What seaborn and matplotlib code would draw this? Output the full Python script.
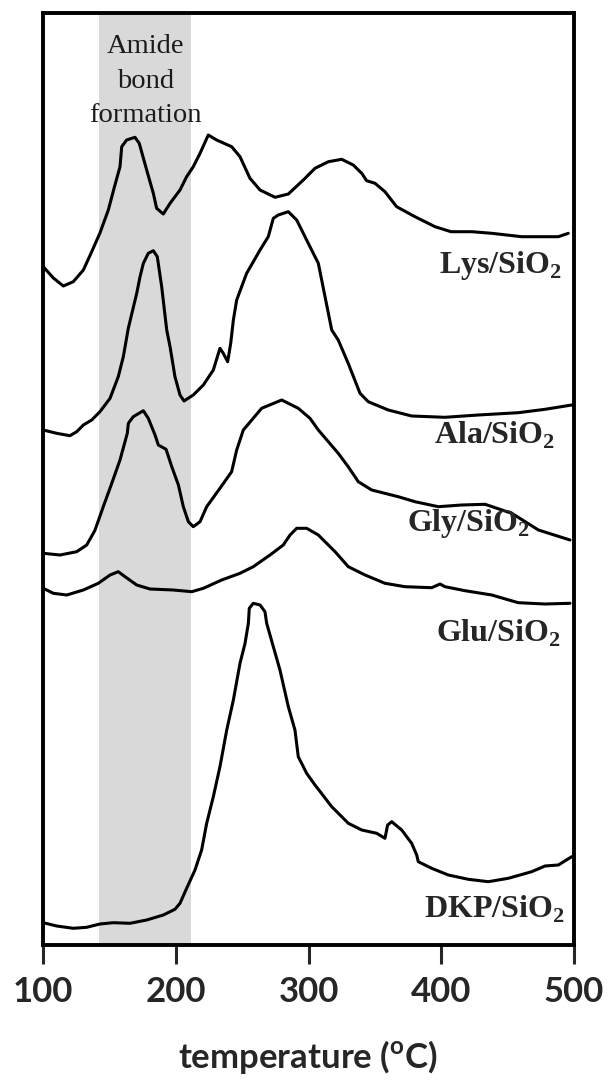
import numpy as np
import pandas as pd
import matplotlib
matplotlib.use("Agg")
import matplotlib.pyplot as plt
import seaborn as sns

# ---- data (temperature in degC, intensity in arbitrary stacked units) ----
lys_t = [100.2, 107.8, 115.3, 122.8, 130.4, 136.7, 142.9, 149.2, 154.2, 158.0, 159.3, 163.0, 169.3,
         172.5, 178.1, 183.1, 185.6, 190.6, 195.7, 203.2, 208.2, 213.2, 218.3, 224.5, 230.8, 242.1,
         248.4, 255.9, 263.5, 274.8, 284.8, 296.1, 304.9, 315.0, 325.0, 333.7, 340.1, 343.8, 350.1,
         357.6, 366.4, 380.2, 395.3, 407.3, 423.0, 438.0, 460.6, 488.2, 495.7]
lys_y = [678.3, 667, 659, 663.3, 675, 693.3, 712, 735, 760, 778.3, 798.3, 805, 807.7,
         801.7, 775, 751.7, 736.7, 731, 741.7, 755, 768.3, 778.3, 791.7, 810, 805, 798.3,
         788.3, 766.7, 755, 747.7, 751, 765, 776.7, 783.3, 785.7, 780, 771.7, 764.3, 761.7,
         753.3, 738.3, 728.3, 718.3, 713.3, 713.3, 711.7, 708.3, 708.3, 711.7]

ala_t = [100.2, 110.3, 120.3, 125.4, 130.4, 136.7, 142.9, 150.5, 156.7, 160.5, 164.3, 170.6, 173.1,
         175.6, 179.3, 183.1, 186.1, 189.4, 193.2, 195.7, 199.4, 203.2, 206.2, 213.2, 220.8, 228.3,
         233.3, 235.8, 239.1, 241.4, 243.4, 245.9, 253.4, 263.5, 269.7, 273.5, 277.2, 284.8, 291.1,
         301.1, 307.4, 317.5, 322.4, 329.9, 338.8, 345.0, 360.1, 377.7, 402.8, 427.9, 458.0, 478.2,
         498.3]
ala_y = [515, 511.7, 509.3, 513.3, 520, 525, 533.3, 546.7, 568.3, 588.3, 617, 651.7, 668.3,
         681.7, 691.7, 694.3, 688.3, 658.3, 615, 598.3, 568.3, 550, 544, 550, 560, 575,
         596.7, 591.7, 583.3, 601.7, 625, 645, 671.7, 695, 708.3, 726.7, 730, 733.3, 725,
         698.3, 681.7, 615, 605, 581.7, 551.7, 543.3, 535, 529, 527.7, 530, 532.3, 535.7,
         540]

gly_t = [100.2, 112.8, 125.4, 132.9, 137.9, 139.2, 145.4, 151.8, 158.0, 163.5, 164.3, 168.0, 175.6,
         179.3, 184.4, 186.9, 192.7, 197.0, 202.0, 205.7, 209.5, 213.2, 218.3, 223.3, 233.3, 242.1,
         245.9, 250.9, 264.7, 279.8, 292.3, 301.1, 307.4, 322.4, 329.9, 337.5, 347.6, 367.6, 380.2,
         397.8, 415.4, 433.0, 453.1, 473.2, 497.0]
gly_y = [391.7, 390, 393.3, 400, 411.7, 415, 438.3, 461.7, 485, 511.7, 521.7, 528.3, 534.3,
         526.7, 510, 500, 495.7, 478.3, 460, 438.3, 423.3, 418.3, 423.3, 438.3, 456.7, 473.3,
         495, 515, 536.7, 545, 536.7, 526.7, 515, 491.7, 478.3, 463.3, 455, 448.3, 443.3,
         438.3, 440, 440.7, 431.7, 415, 405]

glu_t = [100.2, 107.8, 117.9, 130.4, 141.7, 150.5, 156.7, 161.8, 170.6, 180.6, 198.2, 212.0, 220.8,
         234.6, 248.4, 258.4, 271.0, 281.0, 286.1, 291.1, 298.6, 307.4, 320.0, 330.0, 342.6, 357.6,
         372.7, 392.8, 399.1, 402.8, 417.9, 438.0, 458.0, 478.2, 497.0]
glu_y = [356.7, 351.7, 350, 355, 361.7, 370, 373.3, 368.3, 360, 356, 355, 353.3, 356.7,
         365, 371.7, 378.3, 390, 400, 410, 416.7, 416.7, 410, 393.3, 378.3, 370, 361.7,
         358.3, 357.3, 361, 358.3, 354.3, 350, 342.3, 341, 341.7]

dkp_t = [100.2, 110.3, 122.8, 132.9, 142.9, 152.9, 165.5, 178.1, 190.6, 199.4, 203.2, 208.2, 214.5,
         219.5, 223.3, 228.3, 233.3, 238.4, 243.4, 248.4, 252.2, 254.7, 255.4, 258.4, 263.5, 267.2,
         268.5, 273.5, 278.5, 284.8, 289.8, 292.3, 298.6, 304.9, 317.5, 330.0, 340.1, 351.4, 357.6,
         359.6, 362.7, 370.2, 377.7, 381.5, 382.7, 392.8, 405.3, 420.4, 435.4, 450.5, 468.1, 478.2,
         488.2, 498.3]
dkp_y = [22.3, 19, 16.7, 17.7, 21, 22.3, 21.7, 25, 30, 35.7, 41.7, 56.7, 75,
         95, 121.7, 148.3, 178.3, 215, 245, 281.7, 301.7, 321.7, 336.7, 341.7, 340, 333.3,
         321.7, 298.3, 275, 238.3, 215, 188.3, 171.7, 160, 138.3, 121.7, 115, 111.7, 106.7,
         120, 123.3, 115, 101.7, 90, 83.3, 76.7, 70, 65.7, 63.3, 66.7, 73.3, 79,
         80, 88.3]

series = ["Lys", "Ala", "Gly", "Glu", "DKP"]
series_labels = ["Lys/SiO$_\\mathbf{2}$", "Ala/SiO$_\\mathbf{2}$", "Gly/SiO$_\\mathbf{2}$",
                 "Glu/SiO$_\\mathbf{2}$", "DKP/SiO$_\\mathbf{2}$"]
label_t = [490.5, 485.7, 467, 490.2, 493]
label_y = [680, 510, 422, 312, 36]

amide_range = [142.4, 211.5]
amide_text = "Amide\nbond\nformation"
x_ticks = [100, 200, 300, 400, 500]
x_label = "temperature ($^\\mathrm{o}$C)"

# ---- plotting ----
sns.set_style("white")
plt.rcParams["mathtext.fontset"] = "custom"
plt.rcParams["mathtext.rm"] = "Lato:bold"
plt.rcParams["mathtext.bf"] = "Liberation Serif:bold"

fig = plt.figure(figsize=(6.11, 10.9), dpi=100)
ax = fig.add_axes([43 / 611, 1 - 945 / 1090, 531 / 611, (945 - 13) / 1090])

frames = []
for name, t, y in zip(series, [lys_t, ala_t, gly_t, glu_t, dkp_t],
                      [lys_y, ala_y, gly_y, glu_y, dkp_y]):
    frames.append(pd.DataFrame({"T": t, "I": y, "s": name}))
df = pd.concat(frames, ignore_index=True)

ax.axvspan(amide_range[0], amide_range[1], color="#d9d9d9", lw=0, zorder=0)
sns.lineplot(data=df, x="T", y="I", units="s", estimator=None, sort=False,
             color="black", lw=2.2, ax=ax, legend=False)

for lab, t, y in zip(series_labels, label_t, label_y):
    ax.text(t, y, lab, ha="right", va="center", fontsize=23,
            family="Liberation Serif", weight="bold")

ax.text(sum(amide_range) / 2, 864, amide_text, ha="center", va="center", fontsize=20.5,
        family="Liberation Serif", linespacing=1.5, color="#1a1a1a")

ax.set_xlim(100, 500)
ax.set_ylim(0, 932)
ax.set_yticks([])
ax.set_xticks(x_ticks)
ax.set_xticklabels([str(v) for v in x_ticks], fontsize=25, family="Lato", weight="bold")
ax.tick_params(axis="x", direction="out", length=14, width=2.2, pad=8, bottom=True)
for sp in ax.spines.values():
    sp.set_linewidth(2.8)
    sp.set_color("black")
ax.set_xlabel(x_label, fontsize=25, family="Lato", weight="bold", labelpad=22)
ax.set_ylabel("")

fig.savefig("out.png", dpi=100)
